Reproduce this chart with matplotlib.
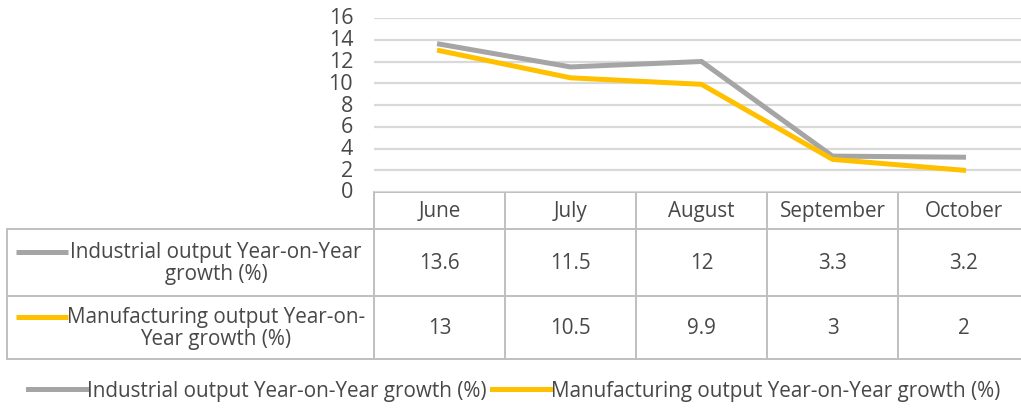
import matplotlib.pyplot as plt

plt.rcParams['font.family'] = ['Open Sans', 'DejaVu Sans']

months = ['June', 'July', 'August', 'September', 'October']
industrial = [13.6, 11.5, 12, 3.3, 3.2]
manufacturing = [13, 10.5, 9.9, 3, 2]
industrial_label = 'Industrial output Year-on-Year growth (%)'
manufacturing_label = 'Manufacturing output Year-on-Year growth (%)'
industrial_row = 'Industrial output Year-on-Year\ngrowth (%)'
manufacturing_row = 'Manufacturing output Year-on-\nYear growth (%)'
yticks = [0, 2, 4, 6, 8, 10, 12, 14, 16]

GRAY = '#A5A5A5'
GOLD = '#FFC000'
GRID = '#D9D9D9'
BORDER = '#BFBFBF'
TEXT = '#484848'

W, H = 1021, 410
fig = plt.figure(figsize=(W / 100, H / 100), dpi=100)

# pixel-space layer for the data table
tab = fig.add_axes([0, 0, 1, 1], zorder=0)
tab.set_xlim(0, W)
tab.set_ylim(H, 0)
tab.axis('off')

# plot area: columns are 131 px wide starting at x=374
col_w = 131
x0 = 374
ax = fig.add_axes([x0 / W, (H - 193) / H, col_w * 5 / W, 174 / H], zorder=1)
ax.patch.set_alpha(0)
ax.set_xlim(-0.5, 4.5)
ax.set_ylim(0, 16)
ax.set_yticks(yticks)
ax.set_xticks([])
ax.grid(axis='y', color=GRID, lw=1.6)
ax.set_axisbelow(True)
for s in ax.spines.values():
    s.set_visible(False)
ax.tick_params(axis='y', length=0, pad=15, labelsize=15.5, labelcolor=TEXT)
for lbl in ax.get_yticklabels():
    lbl.set_verticalalignment('center')

xs = range(len(months))
l1, = ax.plot(xs, industrial, color=GRAY, lw=3.6, solid_joinstyle='miter',
              label=industrial_label)
l2, = ax.plot(xs, manufacturing, color=GOLD, lw=3.6, solid_joinstyle='miter',
              label=manufacturing_label)

# table grid
rows = [193, 230, 297, 360]
left = 7
right = x0 + col_w * 5
kw = dict(color=BORDER, lw=1.4)
tab.plot([x0, right], [rows[0], rows[0]], **kw)
for y in rows[1:]:
    tab.plot([left, right], [y, y], **kw)
tab.plot([left, left], [rows[1], rows[3]], **kw)
for i in range(6):
    x = x0 + col_w * i
    tab.plot([x, x], [rows[0], rows[3]], **kw)

fs = 14.9
for i, m in enumerate(months):
    cx = x0 + col_w * (i + 0.5)
    tab.text(cx, (rows[0] + rows[1]) / 2, m, ha='center', va='center',
             fontsize=fs, color=TEXT)
    tab.text(cx, (rows[1] + rows[2]) / 2, f'{industrial[i]:g}', ha='center',
             va='center', fontsize=fs, color=TEXT)
    tab.text(cx, (rows[2] + rows[3]) / 2, f'{manufacturing[i]:g}', ha='center',
             va='center', fontsize=fs, color=TEXT)

# series keys inside the row headers
for (y0, y1), name, color in [((rows[1], rows[2]), industrial_row, GRAY),
                              ((rows[2], rows[3]), manufacturing_row, GOLD)]:
    cy = (y0 + y1) / 2
    tab.plot([16, 68], [cy - 11, cy - 11], color=color, lw=3.6,
             solid_capstyle='butt')
    tab.text(216, cy, name, ha='center', va='center', multialignment='center',
             fontsize=fs, color=TEXT, linespacing=1.12)

fig.legend(handles=[l1, l2], loc='center', bbox_to_anchor=(514 / W, (H - 392) / H),
           ncol=2, frameon=False, fontsize=fs, labelcolor=TEXT,
           handlelength=2.8, handletextpad=0.05, columnspacing=0.25)

fig.savefig('out.png', dpi=100)
